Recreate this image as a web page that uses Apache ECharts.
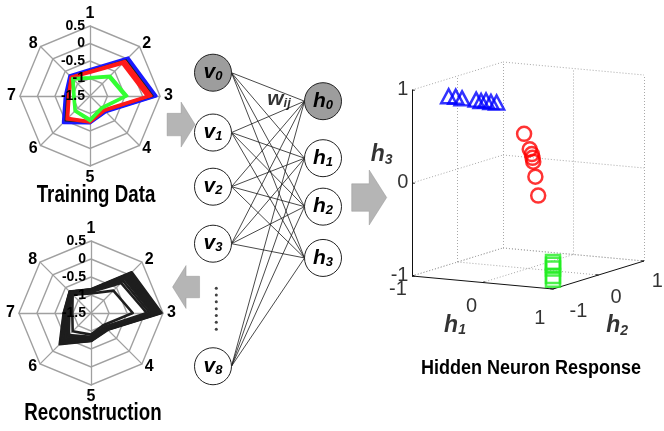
<!DOCTYPE html>
<html>
<head>
<meta charset="utf-8">
<script src="https://cdn.jsdelivr.net/npm/echarts@6/dist/echarts.min.js"></script>
<style>
  html, body { margin: 0; padding: 0; background: #fff; }
  #chart { width: 664px; height: 431px; }
</style>
</head>
<body>
<div id="chart"></div>
<script>
// ---- radar data (axis order 1..8) ----
const radarAxes = ['1', '2', '3', '4', '5', '6', '7', '8'];
const radarMin = -1.5;
const radarMax = 0.5;

const trainBlue = [
  [-0.74, 0.04, 0.39, -0.86, -0.73, -0.42, -0.79, -0.68],
  [-0.77, 0.00, 0.35, -0.88, -0.75, -0.46, -0.82, -0.70]
];
const trainBlack = [
  [-0.78, -0.04, 0.30, -0.90, -0.76, -0.50, -0.84, -0.72]
];
const trainRed = [
  [-0.79, -0.08, 0.26, -0.90, -0.74, -0.55, -0.87, -0.72],
  [-0.80, -0.12, 0.22, -0.92, -0.75, -0.58, -0.89, -0.73],
  [-0.82, -0.16, 0.17, -0.93, -0.77, -0.60, -0.90, -0.75],
  [-0.84, -0.20, 0.12, -0.95, -0.78, -0.62, -0.92, -0.76]
];
const trainGreen = [
  [-0.96, -0.68, -0.43, -1.00, -0.78, -0.88, -1.02, -0.78],
  [-0.98, -0.71, -0.47, -1.02, -0.81, -0.90, -1.04, -0.81],
  [-1.00, -0.74, -0.51, -1.04, -0.84, -0.92, -1.06, -0.84]
];
const recon = [
  [-0.84, 0.10, 0.46, -0.84, -0.72, -0.27, -0.74, -0.66],
  [-0.85, 0.07, 0.43, -0.85, -0.73, -0.30, -0.75, -0.67],
  [-0.85, 0.03, 0.40, -0.86, -0.73, -0.33, -0.77, -0.67],
  [-0.86, 0.00, 0.37, -0.87, -0.74, -0.36, -0.78, -0.68],
  [-0.87, -0.04, 0.33, -0.88, -0.75, -0.40, -0.80, -0.70],
  [-0.88, -0.08, 0.29, -0.89, -0.76, -0.44, -0.81, -0.70],
  [-0.88, -0.12, 0.25, -0.90, -0.77, -0.48, -0.83, -0.71],
  [-0.89, -0.17, 0.20, -0.92, -0.79, -0.52, -0.84, -0.72],
  [-0.90, -0.24, 0.13, -0.94, -0.81, -0.57, -0.86, -0.73],
  [-0.92, -0.32, 0.05, -0.96, -0.84, -0.63, -0.90, -0.75],
  [-0.96, -0.62, -0.34, -1.02, -0.90, -0.78, -0.98, -0.78]
];

// ---- network ----
const visibleNames = ['0', '1', '2', '3', '8'];
const visibleRows = [0, 1.05, 2, 3, 5.15];
const hiddenNames = ['0', '1', '2', '3'];
const hiddenRows = [0.5, 1.5, 2.35, 3.25];
const biasIndex = '0';
const dotRows = [3.78, 3.9, 4.02, 4.14, 4.26, 4.38, 4.5];

// ---- hidden neuron response (h1, h2, h3) ----
const blueH1 = [-0.48, -0.38, -0.29, -0.09, -0.02, 0.05, 0.12, 0.20];
const blueH2 = [-1, -1, -1, -1, -1, -1, -1, -1];
const blueH3 = [0.97, 0.97, 0.96, 0.96, 0.95, 0.96, 0.95, 0.95];
const redH1 = [0.59, 0.67, 0.70, 0.71, 0.72, 0.75, 0.79];
const redH2 = [-1, -1, -1, -1, -1, -1, -1];
const redH3 = [0.64, 0.48, 0.43, 0.39, 0.35, 0.19, -0.01];
const greenH1 = [1, 1, 1, 1, 1];
const greenH2 = [-1, -1, -1, -1, -1];
const greenH3 = [-0.71, -0.74, -0.78, -0.86, -0.90];
const cubeTicks = [-1, 0, 1];

// where the tick labels sit, in (h1, h2, h3)
const zLabelAt = [[-1.05, -1, -1], [-1.05, -1, 0], [-1.05, -1, 1]];
const h1LabelAt = [[-1, -1.31, -1.10], [0, -1.24, -1.22], [1, -1.29, -1.27]];
const h2LabelAt = [[1.36, -1, -1.22], [1.25, 0, -1.22], [1.19, 1, -1.21]];

// ---- layout helpers ----
const BLK = 'Arial, "Liberation Sans", sans-serif';
function toRadarOrder(v) { return [v[0], v[7], v[6], v[5], v[4], v[3], v[2], v[1]]; }

function makeIndicators(withLabel) {
  return toRadarOrder(radarAxes).map((n, i) => {
    const ind = { name: n, min: radarMin, max: radarMax };
    if (withLabel && i === 0) ind.axisLabel = { show: true };
    return ind;
  });
}
function makeRadar(center, radius) {
  return {
    center: center, radius: radius, startAngle: 90, splitNumber: 4, shape: 'polygon',
    indicator: makeIndicators(false),
    nameGap: 4,
    axisName: { color: '#000', fontSize: 16, fontWeight: 'bold', fontFamily: BLK },
    axisLine: { lineStyle: { color: '#a0a0a0', width: 1.3 } },
    splitLine: { lineStyle: { color: '#a0a0a0', width: 1.4 } },
    splitArea: { show: false },
    axisTick: { show: false },
    axisLabel: { show: false }
  };
}
// labels only, drawn above the polygons
function makeRadarLabels(center, radius) {
  return {
    center: center, radius: radius, startAngle: 90, splitNumber: 4, shape: 'polygon', z: 10, zlevel: 1,
    indicator: makeIndicators(true),
    axisName: { show: false },
    axisLine: { show: false },
    splitLine: { show: false },
    splitArea: { show: false },
    axisTick: { show: false },
    axisLabel: { show: false, color: '#000', fontSize: 14, fontWeight: 'bold', fontFamily: BLK, margin: 5 }
  };
}
function radarSeries(idx, rows, color, width) {
  return {
    type: 'radar', radarIndex: idx, symbol: 'none', silent: true,
    lineStyle: { color: color, width: width, opacity: 1 },
    data: rows.map(r => ({ value: toRadarOrder(r) }))
  };
}

// 3D -> 2D projection (grid 1 units)
const AX = [0.705, -0.065], BX = [0.455, 0.14], CZ = [0, 0.93];
function proj(h1, h2, h3) {
  return [
    (h1 + 1) * AX[0] + (h2 + 1) * BX[0] + (h3 + 1) * CZ[0],
    (h1 + 1) * AX[1] + (h2 + 1) * BX[1] + (h3 + 1) * CZ[1]
  ];
}
function seg(p, q) { return { coords: [proj(p[0], p[1], p[2]), proj(q[0], q[1], q[2])] }; }

const gridSegs = [];
cubeTicks.forEach(t => {
  // wall h1 = -1
  if (t !== -1) gridSegs.push(seg([-1, t, -1], [-1, t, 1]));
  gridSegs.push(seg([-1, -1, t], [-1, 1, t]));
  // wall h2 = 1
  gridSegs.push(seg([t, 1, -1], [t, 1, 1]));
  gridSegs.push(seg([-1, 1, t], [1, 1, t]));
  // floor z = -1
  if (t !== 1) gridSegs.push(seg([t, -1, -1], [t, 1, -1]));
  if (t !== -1) gridSegs.push(seg([-1, t, -1], [1, t, -1]));
});
const axisSegs = [
  seg([-1, -1, -1], [-1, -1, 1]),
  seg([-1, -1, -1], [1, -1, -1]),
  seg([1, -1, -1], [1, 1, -1])
];
cubeTicks.forEach(t => {
  axisSegs.push(seg([-1, -1, t], [-0.96, -1, t]));
  axisSegs.push(seg([t, -1, -1], [t, -0.95, -1]));
  axisSegs.push(seg([1, t, -1], [0.96, t, -1]));
});

function pts(a, b, c) { return a.map((v, i) => proj(v, b[i], c[i])); }
function textPoint(p, text) { return { value: proj(p[0], p[1], p[2]), name: text }; }

const tickStyle = { color: '#000', fontSize: 20, fontFamily: BLK };
const hName = {
  h: { fontSize: 23, fontWeight: 'bold', fontStyle: 'italic', fontFamily: BLK, color: '#000' },
  s: { fontSize: 14, fontWeight: 'bold', fontStyle: 'italic', fontFamily: BLK, color: '#000', padding: [10, 0, 0, 0] }
};
function labelSeries(points, extra) {
  return {
    type: 'scatter', xAxisIndex: 1, yAxisIndex: 1, symbolSize: 0, silent: true, clip: false,
    data: points,
    label: Object.assign({ show: true, position: 'inside', formatter: '{b}' }, extra)
  };
}

// network pieces
const R = 0.168;
const netLinks = [];
visibleRows.forEach(vr => hiddenRows.forEach(hr => netLinks.push({ coords: [[R, vr], [1 - R, hr]] })));
const netNodes = [];
visibleNames.forEach((n, i) => netNodes.push({ value: [0, visibleRows[i]], sym: 'v', sub: n, itemStyle: { color: n === biasIndex ? '#9d9d9d' : '#fff' } }));
hiddenNames.forEach((n, i) => netNodes.push({ value: [1, hiddenRows[i]], sym: 'h', sub: n, itemStyle: { color: n === biasIndex ? '#9d9d9d' : '#fff' } }));

const arrowPath = 'path://M0,12 L12,12 L12,0 L24,24 L12,48 L12,36 L0,36 Z';
const arrows = [
  { value: [-0.29, 0.91], symbolSize: [28, 45], symbolRotate: 0 },
  { value: [-0.245, 3.76], symbolSize: [27, 43], symbolRotate: 180 },
  { value: [1.42, 2.19], symbolSize: [35, 55], symbolRotate: 0 }
];

const nodeRich = {
  m: { fontSize: 21, fontWeight: 'bold', fontStyle: 'italic', fontFamily: BLK, color: '#000' },
  s: { fontSize: 13, fontWeight: 'bold', fontStyle: 'italic', fontFamily: BLK, color: '#000', padding: [8, 0, 0, 0] }
};

const chart = echarts.init(document.getElementById('chart'), null, { renderer: 'canvas' });

const option = {
  animation: false,
  backgroundColor: '#fff',
  radar: [
    makeRadar([90, 96], 70), makeRadar([91, 313], 72),
    makeRadarLabels([90, 96], 70), makeRadarLabels([91, 313], 72)
  ],
  grid: [
    { left: 147, top: 15.7, width: 253, height: 399 },
    { left: 412, top: 56, width: 240, height: 240 }
  ],
  xAxis: [
    { type: 'value', gridIndex: 0, min: -0.6, max: 1.7, show: false },
    { type: 'value', gridIndex: 1, min: 0, max: 2.4, show: false }
  ],
  yAxis: [
    { type: 'value', gridIndex: 0, min: -1, max: 6, inverse: true, show: false },
    { type: 'value', gridIndex: 1, min: -0.2, max: 2.2, show: false }
  ],
  graphic: [
    { type: 'text', x: 96, y: 195, scaleX: 0.78, silent: true,
      style: { text: 'Training Data', fontSize: 24, fontWeight: 'bold', fontFamily: BLK, fill: '#000', align: 'center', verticalAlign: 'middle' } },
    { type: 'text', x: 93, y: 413, scaleX: 0.78, silent: true,
      style: { text: 'Reconstruction', fontSize: 24, fontWeight: 'bold', fontFamily: BLK, fill: '#000', align: 'center', verticalAlign: 'middle' } },
    { type: 'text', x: 531, y: 368, scaleX: 0.9, silent: true,
      style: { text: 'Hidden Neuron Response', fontSize: 20, fontWeight: 'bold', fontFamily: BLK, fill: '#000', align: 'center', verticalAlign: 'middle' } }
  ],
  series: [
    radarSeries(0, trainBlue, '#1a1aff', 3),
    radarSeries(0, trainBlack, '#222', 1.5),
    radarSeries(0, trainRed, '#ff1a1a', 2.2),
    radarSeries(0, trainGreen, '#33ff33', 2.4),
    radarSeries(1, recon, '#1e1e1e', 2.6),
    // arrows
    {
      type: 'scatter', xAxisIndex: 0, yAxisIndex: 0, symbol: arrowPath, symbolKeepAspect: false, silent: true, clip: false,
      itemStyle: { color: '#a3a3a3', borderColor: '#8c8c8c', borderWidth: 0.5 },
      data: arrows
    },
    // network edges
    {
      type: 'lines', coordinateSystem: 'cartesian2d', xAxisIndex: 0, yAxisIndex: 0, silent: true,
      lineStyle: { color: '#1a1a1a', width: 0.8, opacity: 1, curveness: 0 },
      data: netLinks
    },
    // network nodes
    {
      type: 'scatter', xAxisIndex: 0, yAxisIndex: 0, symbol: 'circle', symbolSize: 37, silent: true, clip: false,
      itemStyle: { borderColor: '#222', borderWidth: 1, opacity: 1 },
      label: {
        show: true, position: 'inside',
        formatter: p => '{m|' + p.data.sym + '}{s|' + p.data.sub + '}',
        rich: nodeRich
      },
      data: netNodes
    },
    // dots and w_ij
    {
      type: 'scatter', xAxisIndex: 0, yAxisIndex: 0, symbol: 'circle', symbolSize: 3, silent: true,
      itemStyle: { color: '#111' },
      data: dotRows.map(r => [0.03, r])
    },
    {
      type: 'scatter', xAxisIndex: 0, yAxisIndex: 0, symbolSize: 0, silent: true,
      data: [{ value: [0.6, 0.47], name: 'w' }],
      label: { show: true, position: 'inside', formatter: '{m|w}{s|ij}', rich: nodeRich }
    },
    // 3D box
    {
      type: 'lines', coordinateSystem: 'cartesian2d', xAxisIndex: 1, yAxisIndex: 1, silent: true,
      lineStyle: { color: '#a8a8a8', width: 1, type: [1, 2], opacity: 1 },
      data: gridSegs
    },
    {
      type: 'lines', coordinateSystem: 'cartesian2d', xAxisIndex: 1, yAxisIndex: 1, silent: true,
      lineStyle: { color: '#111', width: 1, opacity: 1 },
      data: axisSegs
    },
    // clusters
    {
      type: 'scatter', xAxisIndex: 1, yAxisIndex: 1, symbol: 'rect', symbolSize: 14, silent: true, clip: false,
      itemStyle: { color: 'rgba(0,0,0,0)', borderColor: '#22ee22', borderWidth: 2.5 },
      data: pts(greenH1, greenH2, greenH3)
    },
    {
      type: 'scatter', xAxisIndex: 1, yAxisIndex: 1, symbol: 'circle', symbolSize: 14, silent: true, clip: false,
      itemStyle: { color: 'rgba(0,0,0,0)', borderColor: '#ff0000', borderWidth: 2.5 },
      data: pts(redH1, redH2, redH3)
    },
    {
      type: 'scatter', xAxisIndex: 1, yAxisIndex: 1, symbol: 'triangle', symbolSize: [15, 14], silent: true, clip: false,
      itemStyle: { color: 'rgba(0,0,0,0)', borderColor: '#0000ff', borderWidth: 2.5 },
      data: pts(blueH1, blueH2, blueH3)
    },
    // tick labels
    labelSeries(zLabelAt.map((p, i) => textPoint(p, String(cubeTicks[i]))), Object.assign({ align: 'right' }, tickStyle)),
    labelSeries(h1LabelAt.map((p, i) => textPoint(p, String(cubeTicks[i]))), tickStyle),
    labelSeries(h2LabelAt.map((p, i) => textPoint(p, String(cubeTicks[i]))), tickStyle),
    // axis names
    labelSeries([
      textPoint([-1.43, -1, 0.27], '3'),
      textPoint([-0.39, -1, -1.49], '1'),
      textPoint([1, 0.41, -1.61], '2')
    ], { formatter: p => '{h|h}{s|' + p.name + '}', rich: hName })
  ]
};

chart.setOption(option);
</script>
</body>
</html>
